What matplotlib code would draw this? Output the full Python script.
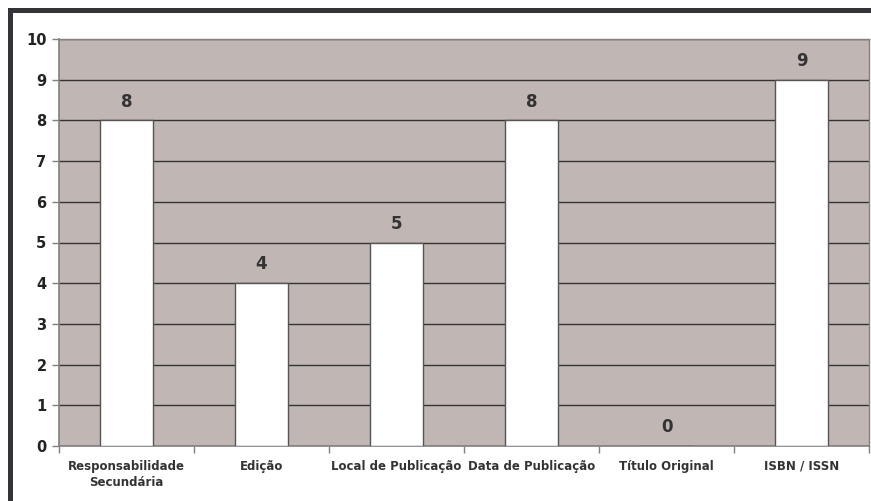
import matplotlib
matplotlib.use("Agg")
import matplotlib.pyplot as plt
from matplotlib.patches import Rectangle
import numpy as np

categories = ["Responsabilidade\nSecundária", "Edição", "Local de Publicação",
              "Data de Publicação", "Título Original", "ISBN / ISSN"]
values = [8, 4, 5, 8, 0, 9]
y_ticks = list(range(0, 11))

W, H, DPI = 871, 501, 100
fig = plt.figure(figsize=(W / DPI, H / DPI), dpi=DPI)
fig.patch.set_facecolor("white")

# plot area in pixel coords
left, right, top, bottom = 59, 869, 39, 446
ax = fig.add_axes([left / W, 1 - bottom / H, (right - left) / W, (bottom - top) / H])
ax.set_facecolor("#C0B7B4")

x = np.arange(len(categories))
ax.set_axisbelow(True)
ax.yaxis.grid(True, color="#333333", linewidth=1.0)
ax.bar(x, values, width=0.39, color="white", edgecolor="#555555", linewidth=1.0, zorder=3)

for xi, v in zip(x, values):
    ax.annotate(str(v), (xi, v), xytext=(0, 7), textcoords="offset points",
                ha="center", va="bottom", fontsize=12, fontweight="bold", color="#333333")

ax.set_xlim(-0.5, len(categories) - 0.5)
ax.set_ylim(0, 10)
ax.set_yticks(y_ticks)
ax.set_yticklabels([str(t) for t in y_ticks], fontsize=10.5, fontweight="bold", color="#222222")

ax.set_xticks(x)
ax.set_xticklabels(categories, fontsize=8.5, fontweight="bold", color="#333333", linespacing=1.3)
ax.set_xticks(np.arange(len(categories) + 1) - 0.5, minor=True)
ax.tick_params(axis="x", which="major", length=0, pad=10)
ax.tick_params(axis="x", which="minor", length=5, color="#808080", width=1)
ax.tick_params(axis="y", length=5, color="#808080", width=1, pad=4)

for s in ["left", "bottom"]:
    ax.spines[s].set_color("#808080")
    ax.spines[s].set_linewidth(1.2)
for s in ["top", "right"]:
    ax.spines[s].set_color("#888080")
    ax.spines[s].set_linewidth(1.0)

# dark frame along top and left edges of the figure
fig.patches.append(Rectangle((8 / W, 0), 5 / W, 1 - 8 / H, transform=fig.transFigure,
                             facecolor="#333338", edgecolor="none"))
fig.patches.append(Rectangle((8 / W, 1 - 13 / H), 1 - 8 / W, 5 / H, transform=fig.transFigure,
                             facecolor="#333338", edgecolor="none"))

fig.savefig("out.png", dpi=DPI)
